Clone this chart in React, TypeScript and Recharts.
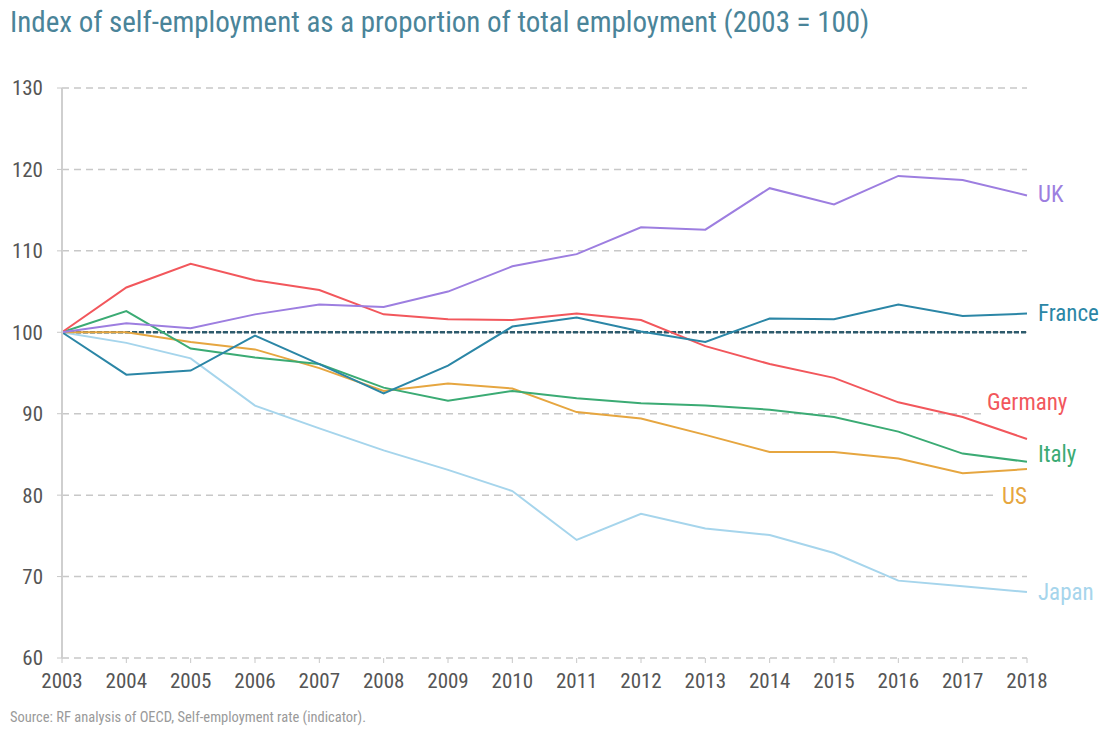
import React from "react";
import { LineChart, Line, XAxis, YAxis, CartesianGrid, ReferenceLine } from "recharts";

const years = ["2003", "2004", "2005", "2006", "2007", "2008", "2009", "2010", "2011", "2012", "2013", "2014", "2015", "2016", "2017", "2018"];
const uk = [100, 101.1, 100.5, 102.2, 103.4, 103.1, 105.0, 108.1, 109.6, 112.9, 112.6, 117.7, 115.7, 119.2, 118.7, 116.8];
const france = [100, 94.8, 95.3, 99.6, 96.1, 92.5, 95.9, 100.7, 101.8, 100.1, 98.8, 101.7, 101.6, 103.4, 102.0, 102.3];
const germany = [100, 105.5, 108.4, 106.4, 105.2, 102.2, 101.6, 101.5, 102.3, 101.5, 98.3, 96.1, 94.4, 91.4, 89.6, 86.9];
const italy = [100, 102.6, 98.0, 96.9, 96.1, 93.2, 91.6, 92.8, 91.9, 91.3, 91.0, 90.5, 89.6, 87.8, 85.1, 84.1];
const us = [100, 100.0, 98.8, 97.9, 95.6, 92.8, 93.7, 93.1, 90.2, 89.4, 87.4, 85.3, 85.3, 84.5, 82.7, 83.2];
const japan = [100, 98.7, 96.8, 91.0, 88.2, 85.5, 83.1, 80.5, 74.5, 77.7, 75.9, 75.1, 72.9, 69.5, 68.8, 68.1];
const yTicks = [60, 70, 80, 90, 100, 110, 120, 130];

const data = years.map((y, i) => ({
  year: y,
  UK: uk[i],
  France: france[i],
  Germany: germany[i],
  Italy: italy[i],
  US: us[i],
  Japan: japan[i],
}));

const FONT = "'Liberation Sans Narrow', 'Roboto Condensed', Roboto, sans-serif";

const series = [
  { key: "Japan", color: "#a6d5ec", dx: 11, dy: 0, bg: false },
  { key: "US", color: "#e6a640", dx: -25, dy: 27, bg: true },
  { key: "Italy", color: "#3bab74", dx: 11, dy: -8, bg: false },
  { key: "Germany", color: "#f2575c", dx: -40, dy: -37, bg: true },
  { key: "France", color: "#2b86a6", dx: 11, dy: -1, bg: false },
  { key: "UK", color: "#9d7ee0", dx: 11, dy: -2, bg: false },
];

function endLabel(name: string, color: string, dx: number, dy: number, bg: boolean) {
  return (props: any) => {
    const { x, y, index } = props;
    if (index !== years.length - 1) return null;
    const w = name.length * 11.5 + 6;
    return (
      <g key={name}>
        {bg && <rect x={x + dx - 4} y={y + dy - 14} width={w} height={28} fill="#fff" />}
        <text x={x + dx} y={y + dy} dy="0.35em" fill={color} fontSize={23} fontFamily={FONT}>
          {name}
        </text>
      </g>
    );
  };
}

export default function App() {
  return (
    <div style={{ position: "absolute", left: 0, top: 0, width: 1106, height: 730, background: "#fff", fontFamily: FONT }}>
      <div style={{ position: "absolute", left: 10, top: 5, fontSize: 29, color: "#4a8499", whiteSpace: "nowrap" }}>
        Index of self-employment as a proportion of total employment (2003 = 100)
      </div>
      <LineChart width={1106} height={730} data={data} margin={{ top: 88, right: 79, bottom: 42, left: 12 }}>
        <CartesianGrid vertical={false} stroke="#c8c8c8" strokeDasharray="7 5" strokeWidth={1.5} />
        <XAxis
          dataKey="year"
          axisLine={false}
          tickLine={{ stroke: "#c8c8c8" }}
          tickSize={5}
          tickMargin={10}
          height={30}
          interval={0}
          tick={{ fill: "#555", fontSize: 21, fontFamily: FONT }}
        />
        <YAxis
          domain={[60, 130]}
          ticks={yTicks}
          width={50}
          axisLine={{ stroke: "#cfcfcf", strokeWidth: 2 }}
          tickLine={{ stroke: "#c8c8c8" }}
          tickSize={5}
          tickMargin={14}
          tick={{ fill: "#555", fontSize: 21, fontFamily: FONT }}
        />
        <ReferenceLine y={100} stroke="#2d5a6c" strokeWidth={2.5} strokeDasharray="5 2" />
        {series.map((s) => (
          <Line
            key={s.key}
            dataKey={s.key}
            stroke={s.color}
            strokeWidth={2}
            dot={false}
            isAnimationActive={false}
            label={endLabel(s.key, s.color, s.dx, s.dy, s.bg)}
          />
        ))}
      </LineChart>
      <div style={{ position: "absolute", left: 10, top: 709, fontSize: 14.5, color: "#9a9a9a", whiteSpace: "nowrap" }}>
        Source: RF analysis of OECD, Self-employment rate (indicator).
      </div>
    </div>
  );
}
